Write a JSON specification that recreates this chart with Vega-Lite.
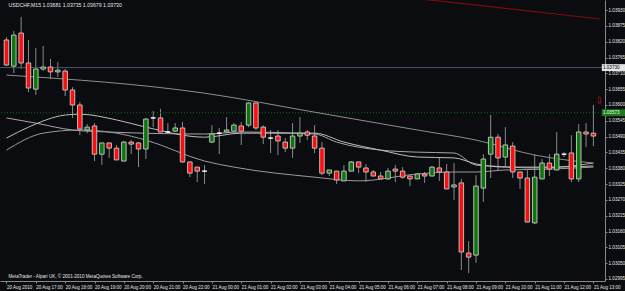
{
  "$schema": "https://vega.github.io/schema/vega-lite/v6.json",
  "width": 605,
  "height": 281,
  "autosize": {"type": "none"},
  "padding": {"left": 0, "top": 0, "right": 20, "bottom": 10},
  "background": "#0b0c10",
  "config": {
    "view": {"stroke": null},
    "font": "Liberation Sans",
    "axis": {
      "grid": false, "title": null,
      "labelFont": "Liberation Sans",
      "labelColor": "#e6e6e6", "labelPadding": 1, "labelOverlap": false, "labelBound": false, "labelFlush": false,
      "tickSize": 2, "tickColor": "#8a8a8a", "domainColor": "#8a8a8a"
    },
    "axisX": {"labelFontSize": 4.5, "labelAlign": "left", "labelPadding": 1.5},
    "axisY": {"labelFontSize": 4.6}
  },
  "datasets": {
    "candles": [
      {"i":0,"o":1.03826,"h":1.03836,"l":1.03735,"c":1.03739},
      {"i":1,"o":1.03735,"h":1.03857,"l":1.03711,"c":1.03843},
      {"i":2,"o":1.03850,"h":1.03906,"l":1.03725,"c":1.03746},
      {"i":3,"o":1.03746,"h":1.03826,"l":1.03645,"c":1.03659},
      {"i":4,"o":1.03655,"h":1.03798,"l":1.03635,"c":1.03725},
      {"i":5,"o":1.03725,"h":1.03805,"l":1.03718,"c":1.03732},
      {"i":6,"o":1.03732,"h":1.03760,"l":1.03690,"c":1.03715},
      {"i":7,"o":1.03715,"h":1.03749,"l":1.03697,"c":1.03721},
      {"i":8,"o":1.03718,"h":1.03725,"l":1.03631,"c":1.03652},
      {"i":9,"o":1.03652,"h":1.03662,"l":1.03555,"c":1.03600},
      {"i":10,"o":1.03600,"h":1.03610,"l":1.03495,"c":1.03516},
      {"i":11,"o":1.03513,"h":1.03534,"l":1.03502,"c":1.03523},
      {"i":12,"o":1.03527,"h":1.03537,"l":1.03405,"c":1.03429},
      {"i":13,"o":1.03429,"h":1.03468,"l":1.03391,"c":1.03468},
      {"i":14,"o":1.03468,"h":1.03468,"l":1.03416,"c":1.03450},
      {"i":15,"o":1.03450,"h":1.03461,"l":1.03409,"c":1.03409},
      {"i":16,"o":1.03405,"h":1.03475,"l":1.03405,"c":1.03471},
      {"i":17,"o":1.03471,"h":1.03478,"l":1.03429,"c":1.03464},
      {"i":18,"o":1.03468,"h":1.03471,"l":1.03384,"c":1.03447},
      {"i":19,"o":1.03447,"h":1.03555,"l":1.03412,"c":1.03551},
      {"i":20,"o":1.03555,"h":1.03579,"l":1.03523,"c":1.03555},
      {"i":21,"o":1.03555,"h":1.03586,"l":1.03506,"c":1.03506},
      {"i":22,"o":1.03506,"h":1.03537,"l":1.03502,"c":1.03506},
      {"i":23,"o":1.03509,"h":1.03537,"l":1.03506,"c":1.03520},
      {"i":24,"o":1.03520,"h":1.03541,"l":1.03398,"c":1.03402},
      {"i":25,"o":1.03402,"h":1.03402,"l":1.03349,"c":1.03363},
      {"i":26,"o":1.03384,"h":1.03384,"l":1.03332,"c":1.03370},
      {"i":27,"o":1.03370,"h":1.03391,"l":1.03325,"c":1.03370},
      {"i":28,"o":1.03471,"h":1.03530,"l":1.03468,"c":1.03499},
      {"i":29,"o":1.03502,"h":1.03520,"l":1.03429,"c":1.03502},
      {"i":30,"o":1.03506,"h":1.03558,"l":1.03506,"c":1.03513},
      {"i":31,"o":1.03509,"h":1.03537,"l":1.03509,"c":1.03530},
      {"i":32,"o":1.03527,"h":1.03541,"l":1.03461,"c":1.03509},
      {"i":33,"o":1.03530,"h":1.03610,"l":1.03523,"c":1.03607},
      {"i":34,"o":1.03607,"h":1.03607,"l":1.03513,"c":1.03520},
      {"i":35,"o":1.03523,"h":1.03530,"l":1.03464,"c":1.03488},
      {"i":36,"o":1.03485,"h":1.03513,"l":1.03433,"c":1.03485},
      {"i":37,"o":1.03492,"h":1.03513,"l":1.03426,"c":1.03475},
      {"i":38,"o":1.03471,"h":1.03485,"l":1.03436,"c":1.03450},
      {"i":39,"o":1.03450,"h":1.03537,"l":1.03416,"c":1.03492},
      {"i":40,"o":1.03492,"h":1.03558,"l":1.03468,"c":1.03502},
      {"i":41,"o":1.03506,"h":1.03513,"l":1.03478,"c":1.03495},
      {"i":42,"o":1.03492,"h":1.03530,"l":1.03433,"c":1.03450},
      {"i":43,"o":1.03450,"h":1.03471,"l":1.03356,"c":1.03363},
      {"i":44,"o":1.03363,"h":1.03374,"l":1.03353,"c":1.03374},
      {"i":45,"o":1.03370,"h":1.03370,"l":1.03325,"c":1.03339},
      {"i":46,"o":1.03336,"h":1.03391,"l":1.03336,"c":1.03370},
      {"i":47,"o":1.03370,"h":1.03405,"l":1.03370,"c":1.03402},
      {"i":48,"o":1.03402,"h":1.03402,"l":1.03363,"c":1.03384},
      {"i":49,"o":1.03381,"h":1.03395,"l":1.03332,"c":1.03367},
      {"i":50,"o":1.03367,"h":1.03374,"l":1.03353,"c":1.03353},
      {"i":51,"o":1.03353,"h":1.03367,"l":1.03343,"c":1.03343},
      {"i":52,"o":1.03343,"h":1.03381,"l":1.03339,"c":1.03370},
      {"i":53,"o":1.03377,"h":1.03391,"l":1.03332,"c":1.03370},
      {"i":54,"o":1.03370,"h":1.03384,"l":1.03343,"c":1.03349},
      {"i":55,"o":1.03353,"h":1.03353,"l":1.03318,"c":1.03343},
      {"i":56,"o":1.03343,"h":1.03363,"l":1.03343,"c":1.03360},
      {"i":57,"o":1.03360,"h":1.03367,"l":1.03329,"c":1.03353},
      {"i":58,"o":1.03353,"h":1.03388,"l":1.03353,"c":1.03384},
      {"i":59,"o":1.03381,"h":1.03416,"l":1.03336,"c":1.03367},
      {"i":60,"o":1.03367,"h":1.03395,"l":1.03308,"c":1.03308},
      {"i":61,"o":1.03315,"h":1.03398,"l":1.03270,"c":1.03322},
      {"i":62,"o":1.03329,"h":1.03343,"l":1.03026,"c":1.03089},
      {"i":63,"o":1.03085,"h":1.03127,"l":1.03016,"c":1.03071},
      {"i":64,"o":1.03078,"h":1.03356,"l":1.03051,"c":1.03318},
      {"i":65,"o":1.03311,"h":1.03429,"l":1.03263,"c":1.03412},
      {"i":66,"o":1.03429,"h":1.03565,"l":1.03346,"c":1.03488},
      {"i":67,"o":1.03488,"h":1.03499,"l":1.03374,"c":1.03416},
      {"i":68,"o":1.03419,"h":1.03523,"l":1.03384,"c":1.03461},
      {"i":69,"o":1.03457,"h":1.03471,"l":1.03346,"c":1.03367},
      {"i":70,"o":1.03367,"h":1.03367,"l":1.03308,"c":1.03346},
      {"i":71,"o":1.03346,"h":1.03377,"l":1.03193,"c":1.03193},
      {"i":72,"o":1.03190,"h":1.03429,"l":1.03186,"c":1.03349},
      {"i":73,"o":1.03343,"h":1.03412,"l":1.03343,"c":1.03398},
      {"i":74,"o":1.03398,"h":1.03429,"l":1.03353,"c":1.03377},
      {"i":75,"o":1.03374,"h":1.03506,"l":1.03374,"c":1.03429},
      {"i":76,"o":1.03429,"h":1.03436,"l":1.03419,"c":1.03429},
      {"i":77,"o":1.03433,"h":1.03495,"l":1.03332,"c":1.03343},
      {"i":78,"o":1.03343,"h":1.03534,"l":1.03332,"c":1.03506},
      {"i":79,"o":1.03506,"h":1.03537,"l":1.03454,"c":1.03499},
      {"i":80,"o":1.03502,"h":1.03600,"l":1.03457,"c":1.03492}
    ],
    "ma": [
      {"s":"A","i":0,"v":1.03704},{"s":"A","i":27,"v":1.03641},{"s":"A","i":42,"v":1.03575},{"s":"A","i":56,"v":1.03513},{"s":"A","i":64,"v":1.03478},{"s":"A","i":72,"v":1.03426},{"s":"A","i":80,"v":1.03398},
      {"s":"B","i":0,"v":1.03555},{"s":"B","i":4,"v":1.03537},{"s":"B","i":9,"v":1.03513},{"s":"B","i":14,"v":1.03506},{"s":"B","i":27,"v":1.03499},{"s":"B","i":32,"v":1.03506},{"s":"B","i":42,"v":1.03499},{"s":"B","i":45,"v":1.03471},{"s":"B","i":51,"v":1.03443},{"s":"B","i":56,"v":1.03436},{"s":"B","i":61,"v":1.03433},{"s":"B","i":64,"v":1.03391},{"s":"B","i":66,"v":1.03388},{"s":"B","i":72,"v":1.03381},{"s":"B","i":78,"v":1.03391},{"s":"B","i":80,"v":1.03398},
      {"s":"C","i":0,"v":1.03443},{"s":"C","i":5,"v":1.03502},{"s":"C","i":10,"v":1.03513},{"s":"C","i":15,"v":1.03502},{"s":"C","i":19,"v":1.03478},{"s":"C","i":27,"v":1.03405},{"s":"C","i":31,"v":1.03384},{"s":"C","i":42,"v":1.03349},{"s":"C","i":48,"v":1.03336},{"s":"C","i":56,"v":1.03360},{"s":"C","i":61,"v":1.03367},{"s":"C","i":64,"v":1.03367},{"s":"C","i":68,"v":1.03374},{"s":"C","i":74,"v":1.03377},{"s":"C","i":80,"v":1.03384},
      {"s":"D","i":0,"v":1.03485},{"s":"D","i":3,"v":1.03523},{"s":"D","i":8,"v":1.03565},{"s":"D","i":10,"v":1.03568},{"s":"D","i":15,"v":1.03548},{"s":"D","i":19,"v":1.03523},{"s":"D","i":27,"v":1.03488},{"s":"D","i":32,"v":1.03502},{"s":"D","i":42,"v":1.03502},{"s":"D","i":46,"v":1.03471},{"s":"D","i":51,"v":1.03443},{"s":"D","i":56,"v":1.03419},{"s":"D","i":61,"v":1.03416},{"s":"D","i":64,"v":1.03395},{"s":"D","i":68,"v":1.03384},{"s":"D","i":75,"v":1.03384},{"s":"D","i":80,"v":1.03388}
    ],
    "trend": [
      {"i":56,"v":1.03970},
      {"i":80.9,"v":1.03899}
    ],
    "levels": [
      {"name":"bid","v":1.03730,"t":"1.03730","x1":81.15,"x2":84.5,"lo":1.03718,"hi":1.03742,"xt":81.3},
      {"name":"ask","v":1.03573,"t":"1.03573","x1":81.15,"x2":84.5,"lo":1.03561,"hi":1.03585,"xt":81.3}
    ],
    "marks": [
      {"name":"arrow","i":80,"v":1.03614,"t":"⇩"},
      {"name":"title","i":0,"v":1.03947,"t":"USDCHF,M15  1.03681 1.03735 1.03679 1.03730"},
      {"name":"copyright","i":0,"v":1.03003,"t":"MetaTrader - Alpari UK, © 2001-2010 MetaQuotes Software Corp."}
    ]
  },
  "layer": [
    {
      "data": {"name": "candles"},
      "mark": {"type": "rule", "color": "#8a8a8a", "strokeWidth": 1},
      "encoding": {
        "x": {"field": "i", "type": "quantitative", "scale": {"domain": [-0.2, 80.9], "nice": false, "zero": false},
          "axis": {"orient": "bottom", "values": [0, 4, 8, 12, 16, 20, 24, 28, 32, 36, 40, 44, 48, 52, 56, 60, 64, 68, 72, 76, 80],
            "labelExpr": "['20 Aug 2010','20 Aug 17:00','20 Aug 18:00','20 Aug 19:00','20 Aug 20:00','20 Aug 21:00','20 Aug 22:00','21 Aug 00:00','21 Aug 01:00','21 Aug 02:00','21 Aug 03:00','21 Aug 04:00','21 Aug 05:00','21 Aug 06:00','21 Aug 07:00','21 Aug 08:00','21 Aug 09:00','21 Aug 10:00','21 Aug 11:00','21 Aug 12:00','21 Aug 13:00'][round(datum.value/4)]"}},
        "y": {"field": "l", "type": "quantitative", "scale": {"domain": [1.02988, 1.03965], "nice": false, "zero": false},
          "axis": {"orient": "right", "format": ".5f", "values": [1.03930, 1.03875, 1.03820, 1.03765, 1.03710, 1.03655, 1.03600, 1.03545, 1.03490, 1.03435, 1.03380, 1.03325, 1.03270, 1.03215, 1.03160, 1.03105, 1.03050, 1.02995]}},
        "y2": {"field": "h"}
      }
    },
    {
      "data": {"name": "levels"},
      "transform": [{"filter": "datum.name == 'bid'"}],
      "mark": {"type": "rule", "color": "#46566a", "strokeWidth": 1},
      "encoding": {
        "y": {"field": "v", "type": "quantitative", "scale": {"domain": [1.02988, 1.03965], "nice": false, "zero": false},
          "axis": {"orient": "right", "format": ".5f", "values": [1.03930, 1.03875, 1.03820, 1.03765, 1.03710, 1.03655, 1.03600, 1.03545, 1.03490, 1.03435, 1.03380, 1.03325, 1.03270, 1.03215, 1.03160, 1.03105, 1.03050, 1.02995]}}
      }
    },
    {
      "data": {"name": "levels"},
      "transform": [{"filter": "datum.name == 'ask'"}],
      "mark": {"type": "rule", "color": "#0d6a0d", "strokeWidth": 1, "strokeDash": [1, 2]},
      "encoding": {
        "y": {"field": "v", "type": "quantitative", "scale": {"domain": [1.02988, 1.03965], "nice": false, "zero": false},
          "axis": {"orient": "right", "format": ".5f", "values": [1.03930, 1.03875, 1.03820, 1.03765, 1.03710, 1.03655, 1.03600, 1.03545, 1.03490, 1.03435, 1.03380, 1.03325, 1.03270, 1.03215, 1.03160, 1.03105, 1.03050, 1.02995]}}
      }
    },
    {
      "data": {"name": "trend"},
      "mark": {"type": "line", "color": "#7d0b0b", "strokeWidth": 1.2, "clip": true},
      "encoding": {
        "x": {"field": "i", "type": "quantitative", "scale": {"domain": [-0.2, 80.9], "nice": false, "zero": false},
          "axis": {"orient": "bottom", "values": [0, 4, 8, 12, 16, 20, 24, 28, 32, 36, 40, 44, 48, 52, 56, 60, 64, 68, 72, 76, 80],
            "labelExpr": "['20 Aug 2010','20 Aug 17:00','20 Aug 18:00','20 Aug 19:00','20 Aug 20:00','20 Aug 21:00','20 Aug 22:00','21 Aug 00:00','21 Aug 01:00','21 Aug 02:00','21 Aug 03:00','21 Aug 04:00','21 Aug 05:00','21 Aug 06:00','21 Aug 07:00','21 Aug 08:00','21 Aug 09:00','21 Aug 10:00','21 Aug 11:00','21 Aug 12:00','21 Aug 13:00'][round(datum.value/4)]"}},
        "y": {"field": "v", "type": "quantitative", "scale": {"domain": [1.02988, 1.03965], "nice": false, "zero": false},
          "axis": {"orient": "right", "format": ".5f", "values": [1.03930, 1.03875, 1.03820, 1.03765, 1.03710, 1.03655, 1.03600, 1.03545, 1.03490, 1.03435, 1.03380, 1.03325, 1.03270, 1.03215, 1.03160, 1.03105, 1.03050, 1.02995]}}
      }
    },
    {
      "data": {"name": "ma"},
      "mark": {"type": "line", "strokeWidth": 1, "interpolate": "monotone", "clip": true},
      "encoding": {
        "x": {"field": "i", "type": "quantitative", "scale": {"domain": [-0.2, 80.9], "nice": false, "zero": false},
          "axis": {"orient": "bottom", "values": [0, 4, 8, 12, 16, 20, 24, 28, 32, 36, 40, 44, 48, 52, 56, 60, 64, 68, 72, 76, 80],
            "labelExpr": "['20 Aug 2010','20 Aug 17:00','20 Aug 18:00','20 Aug 19:00','20 Aug 20:00','20 Aug 21:00','20 Aug 22:00','21 Aug 00:00','21 Aug 01:00','21 Aug 02:00','21 Aug 03:00','21 Aug 04:00','21 Aug 05:00','21 Aug 06:00','21 Aug 07:00','21 Aug 08:00','21 Aug 09:00','21 Aug 10:00','21 Aug 11:00','21 Aug 12:00','21 Aug 13:00'][round(datum.value/4)]"}},
        "y": {"field": "v", "type": "quantitative", "scale": {"domain": [1.02988, 1.03965], "nice": false, "zero": false},
          "axis": {"orient": "right", "format": ".5f", "values": [1.03930, 1.03875, 1.03820, 1.03765, 1.03710, 1.03655, 1.03600, 1.03545, 1.03490, 1.03435, 1.03380, 1.03325, 1.03270, 1.03215, 1.03160, 1.03105, 1.03050, 1.02995]}},
        "color": {"field": "s", "type": "nominal", "scale": {"domain": ["A", "B", "C", "D"], "range": ["#8e8e8e", "#a6a6a6", "#9a9a9a", "#bdbdbd"]}, "legend": null}
      }
    },
    {
      "data": {"name": "candles"},
      "mark": {"type": "bar", "size": 4.5, "strokeWidth": 1},
      "encoding": {
        "x": {"field": "i", "type": "quantitative", "scale": {"domain": [-0.2, 80.9], "nice": false, "zero": false},
          "axis": {"orient": "bottom", "values": [0, 4, 8, 12, 16, 20, 24, 28, 32, 36, 40, 44, 48, 52, 56, 60, 64, 68, 72, 76, 80],
            "labelExpr": "['20 Aug 2010','20 Aug 17:00','20 Aug 18:00','20 Aug 19:00','20 Aug 20:00','20 Aug 21:00','20 Aug 22:00','21 Aug 00:00','21 Aug 01:00','21 Aug 02:00','21 Aug 03:00','21 Aug 04:00','21 Aug 05:00','21 Aug 06:00','21 Aug 07:00','21 Aug 08:00','21 Aug 09:00','21 Aug 10:00','21 Aug 11:00','21 Aug 12:00','21 Aug 13:00'][round(datum.value/4)]"}},
        "y": {"field": "o", "type": "quantitative", "scale": {"domain": [1.02988, 1.03965], "nice": false, "zero": false},
          "axis": {"orient": "right", "format": ".5f", "values": [1.03930, 1.03875, 1.03820, 1.03765, 1.03710, 1.03655, 1.03600, 1.03545, 1.03490, 1.03435, 1.03380, 1.03325, 1.03270, 1.03215, 1.03160, 1.03105, 1.03050, 1.02995]}},
        "y2": {"field": "c"},
        "color": {"condition": {"test": "datum.c < datum.o", "value": "#ff0d0d"}, "value": "#0b760b"},
        "stroke": {"condition": {"test": "abs(datum.c - datum.o) < 0.000005", "value": "#ffffff"}, "value": "#bdbdbd"}
      }
    },
    {
      "data": {"name": "marks"},
      "mark": {"type": "text", "align": "left", "baseline": "middle", "dx": 2, "font": "Liberation Sans"},
      "encoding": {
        "x": {"field": "i", "type": "quantitative", "scale": {"domain": [-0.2, 80.9], "nice": false, "zero": false},
          "axis": {"orient": "bottom", "values": [0, 4, 8, 12, 16, 20, 24, 28, 32, 36, 40, 44, 48, 52, 56, 60, 64, 68, 72, 76, 80],
            "labelExpr": "['20 Aug 2010','20 Aug 17:00','20 Aug 18:00','20 Aug 19:00','20 Aug 20:00','20 Aug 21:00','20 Aug 22:00','21 Aug 00:00','21 Aug 01:00','21 Aug 02:00','21 Aug 03:00','21 Aug 04:00','21 Aug 05:00','21 Aug 06:00','21 Aug 07:00','21 Aug 08:00','21 Aug 09:00','21 Aug 10:00','21 Aug 11:00','21 Aug 12:00','21 Aug 13:00'][round(datum.value/4)]"}},
        "y": {"field": "v", "type": "quantitative", "scale": {"domain": [1.02988, 1.03965], "nice": false, "zero": false},
          "axis": {"orient": "right", "format": ".5f", "values": [1.03930, 1.03875, 1.03820, 1.03765, 1.03710, 1.03655, 1.03600, 1.03545, 1.03490, 1.03435, 1.03380, 1.03325, 1.03270, 1.03215, 1.03160, 1.03105, 1.03050, 1.02995]}},
        "text": {"field": "t"},
        "color": {"condition": {"test": "datum.name == 'arrow'", "value": "#c01010"}, "value": "#e6e6e6"},
        "size": {"condition": [{"test": "datum.name == 'arrow'", "value": 10}, {"test": "datum.name == 'title'", "value": 5.2}], "value": 4.6},
        "xOffset": {"condition": {"test": "datum.name == 'arrow'", "value": -5}, "value": 0}
      }
    },
    {
      "data": {"name": "levels"},
      "mark": {"type": "rect", "clip": false},
      "encoding": {
        "x": {"field": "x1", "type": "quantitative", "scale": {"domain": [-0.2, 80.9], "nice": false, "zero": false},
          "axis": {"orient": "bottom", "values": [0, 4, 8, 12, 16, 20, 24, 28, 32, 36, 40, 44, 48, 52, 56, 60, 64, 68, 72, 76, 80],
            "labelExpr": "['20 Aug 2010','20 Aug 17:00','20 Aug 18:00','20 Aug 19:00','20 Aug 20:00','20 Aug 21:00','20 Aug 22:00','21 Aug 00:00','21 Aug 01:00','21 Aug 02:00','21 Aug 03:00','21 Aug 04:00','21 Aug 05:00','21 Aug 06:00','21 Aug 07:00','21 Aug 08:00','21 Aug 09:00','21 Aug 10:00','21 Aug 11:00','21 Aug 12:00','21 Aug 13:00'][round(datum.value/4)]"}},
        "x2": {"field": "x2"},
        "y": {"field": "lo", "type": "quantitative", "scale": {"domain": [1.02988, 1.03965], "nice": false, "zero": false},
          "axis": {"orient": "right", "format": ".5f", "values": [1.03930, 1.03875, 1.03820, 1.03765, 1.03710, 1.03655, 1.03600, 1.03545, 1.03490, 1.03435, 1.03380, 1.03325, 1.03270, 1.03215, 1.03160, 1.03105, 1.03050, 1.02995]}},
        "y2": {"field": "hi"},
        "color": {"condition": {"test": "datum.name == 'bid'", "value": "#e4e4e4"}, "value": "#1c7a1c"}
      }
    },
    {
      "data": {"name": "levels"},
      "mark": {"type": "text", "fontSize": 4.6, "align": "left", "baseline": "middle", "clip": false, "font": "Liberation Sans"},
      "encoding": {
        "x": {"field": "xt", "type": "quantitative", "scale": {"domain": [-0.2, 80.9], "nice": false, "zero": false},
          "axis": {"orient": "bottom", "values": [0, 4, 8, 12, 16, 20, 24, 28, 32, 36, 40, 44, 48, 52, 56, 60, 64, 68, 72, 76, 80],
            "labelExpr": "['20 Aug 2010','20 Aug 17:00','20 Aug 18:00','20 Aug 19:00','20 Aug 20:00','20 Aug 21:00','20 Aug 22:00','21 Aug 00:00','21 Aug 01:00','21 Aug 02:00','21 Aug 03:00','21 Aug 04:00','21 Aug 05:00','21 Aug 06:00','21 Aug 07:00','21 Aug 08:00','21 Aug 09:00','21 Aug 10:00','21 Aug 11:00','21 Aug 12:00','21 Aug 13:00'][round(datum.value/4)]"}},
        "y": {"field": "v", "type": "quantitative", "scale": {"domain": [1.02988, 1.03965], "nice": false, "zero": false},
          "axis": {"orient": "right", "format": ".5f", "values": [1.03930, 1.03875, 1.03820, 1.03765, 1.03710, 1.03655, 1.03600, 1.03545, 1.03490, 1.03435, 1.03380, 1.03325, 1.03270, 1.03215, 1.03160, 1.03105, 1.03050, 1.02995]}},
        "text": {"field": "t"},
        "color": {"condition": {"test": "datum.name == 'bid'", "value": "#000000"}, "value": "#e8ffe8"}
      }
    }
  ]
}
